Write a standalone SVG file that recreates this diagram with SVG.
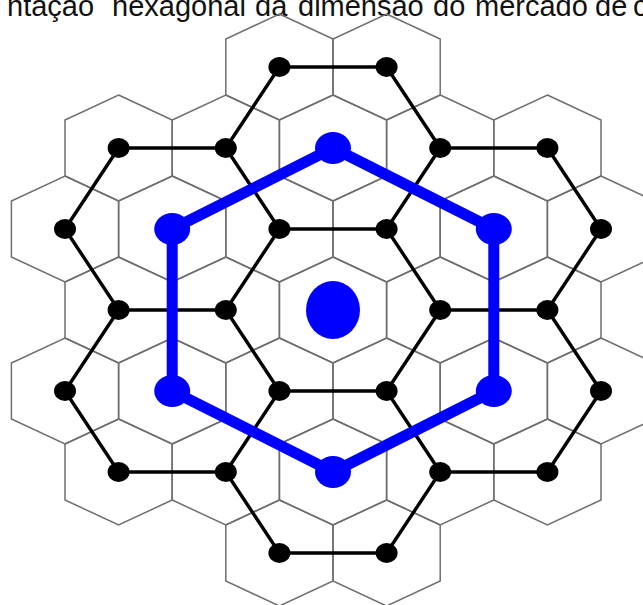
<svg xmlns="http://www.w3.org/2000/svg" xmlns:xlink="http://www.w3.org/1999/xlink" width="643" height="605" viewBox="0 0 643 605">
<style>
.title{font-family:"Liberation Sans",Arial,sans-serif;font-size:29px;fill:#111}
.hex{fill:none;stroke:#6e6e6e;stroke-width:1.5;stroke-linejoin:miter}
.blk{stroke:#000;stroke-width:3.4;stroke-linecap:round}
.blu{stroke:#0000ff;stroke-width:11;stroke-linecap:round}
.dot{fill:#000}
.bdot{fill:#0000ff}
</style>
<defs>
<polygon id="hx" class="hex" points="0,-53 53.6,-28 53.6,28 0,53 -53.6,28 -53.6,-28"/>
</defs>
<rect x="0" y="0" width="643" height="605" fill="#fff"/>
<text class="title" y="16"><tspan x="7">ntação</tspan><tspan x="112">hexagonal</tspan><tspan x="255">da</tspan><tspan x="298">dimensão</tspan><tspan x="433">do</tspan><tspan x="475">mercado</tspan><tspan x="595">de</tspan><tspan x="633">c</tspan></text>
<g id="grid">
<use xlink:href="#hx" x="279.4" y="67"/><use xlink:href="#hx" x="386.6" y="67"/>
<use xlink:href="#hx" x="118.6" y="148"/><use xlink:href="#hx" x="225.8" y="148"/><use xlink:href="#hx" x="333" y="148"/><use xlink:href="#hx" x="440.2" y="148"/><use xlink:href="#hx" x="547.4" y="148"/>
<use xlink:href="#hx" x="65" y="229"/><use xlink:href="#hx" x="172.2" y="229"/><use xlink:href="#hx" x="279.4" y="229"/><use xlink:href="#hx" x="386.6" y="229"/><use xlink:href="#hx" x="493.8" y="229"/><use xlink:href="#hx" x="601" y="229"/>
<use xlink:href="#hx" x="118.6" y="310"/><use xlink:href="#hx" x="225.8" y="310"/><use xlink:href="#hx" x="333" y="310"/><use xlink:href="#hx" x="440.2" y="310"/><use xlink:href="#hx" x="547.4" y="310"/>
<use xlink:href="#hx" x="65" y="391"/><use xlink:href="#hx" x="172.2" y="391"/><use xlink:href="#hx" x="279.4" y="391"/><use xlink:href="#hx" x="386.6" y="391"/><use xlink:href="#hx" x="493.8" y="391"/><use xlink:href="#hx" x="601" y="391"/>
<use xlink:href="#hx" x="118.6" y="472"/><use xlink:href="#hx" x="225.8" y="472"/><use xlink:href="#hx" x="333" y="472"/><use xlink:href="#hx" x="440.2" y="472"/><use xlink:href="#hx" x="547.4" y="472"/>
<use xlink:href="#hx" x="279.4" y="553"/><use xlink:href="#hx" x="386.6" y="553"/>
</g>
<g id="connectors">
<g class="blk">
<line x1="279.4" y1="67" x2="386.6" y2="67"/>
<line x1="279.4" y1="67" x2="225.8" y2="148"/>
<line x1="386.6" y1="67" x2="440.2" y2="148"/>
<line x1="118.6" y1="148" x2="225.8" y2="148"/>
<line x1="440.2" y1="148" x2="547.4" y2="148"/>
<line x1="118.6" y1="148" x2="65" y2="229"/>
<line x1="225.8" y1="148" x2="279.4" y2="229"/>
<line x1="440.2" y1="148" x2="386.6" y2="229"/>
<line x1="547.4" y1="148" x2="601" y2="229"/>
<line x1="279.4" y1="229" x2="386.6" y2="229"/>
<line x1="65" y1="229" x2="118.6" y2="310"/>
<line x1="279.4" y1="229" x2="225.8" y2="310"/>
<line x1="386.6" y1="229" x2="440.2" y2="310"/>
<line x1="601" y1="229" x2="547.4" y2="310"/>
<line x1="118.6" y1="310" x2="225.8" y2="310"/>
<line x1="440.2" y1="310" x2="547.4" y2="310"/>
<line x1="118.6" y1="310" x2="65" y2="391"/>
<line x1="225.8" y1="310" x2="279.4" y2="391"/>
<line x1="440.2" y1="310" x2="386.6" y2="391"/>
<line x1="547.4" y1="310" x2="601" y2="391"/>
<line x1="279.4" y1="391" x2="386.6" y2="391"/>
<line x1="65" y1="391" x2="118.6" y2="472"/>
<line x1="279.4" y1="391" x2="225.8" y2="472"/>
<line x1="386.6" y1="391" x2="440.2" y2="472"/>
<line x1="601" y1="391" x2="547.4" y2="472"/>
<line x1="118.6" y1="472" x2="225.8" y2="472"/>
<line x1="440.2" y1="472" x2="547.4" y2="472"/>
<line x1="225.8" y1="472" x2="279.4" y2="553"/>
<line x1="440.2" y1="472" x2="386.6" y2="553"/>
<line x1="279.4" y1="553" x2="386.6" y2="553"/>
</g>
<g class="blu">
<line x1="333" y1="148" x2="493.8" y2="229"/>
<line x1="493.8" y1="229" x2="493.8" y2="391"/>
<line x1="493.8" y1="391" x2="333" y2="472"/>
<line x1="333" y1="472" x2="172.2" y2="391"/>
<line x1="172.2" y1="391" x2="172.2" y2="229"/>
<line x1="172.2" y1="229" x2="333" y2="148"/>
</g>
</g>
<g id="n-a1"><ellipse class="dot" cx="279.4" cy="67" rx="11" ry="10"/></g>
<g id="n-a2"><ellipse class="dot" cx="386.6" cy="67" rx="11" ry="10"/></g>
<g id="n-b1"><ellipse class="dot" cx="118.6" cy="148" rx="11" ry="10"/></g>
<g id="n-b2"><ellipse class="dot" cx="225.8" cy="148" rx="11" ry="10"/></g>
<g id="n-b4"><ellipse class="dot" cx="440.2" cy="148" rx="11" ry="10"/></g>
<g id="n-b5"><ellipse class="dot" cx="547.4" cy="148" rx="11" ry="10"/></g>
<g id="n-c1"><ellipse class="dot" cx="65" cy="229" rx="11" ry="10"/></g>
<g id="n-c3"><ellipse class="dot" cx="279.4" cy="229" rx="11" ry="10"/></g>
<g id="n-c4"><ellipse class="dot" cx="386.6" cy="229" rx="11" ry="10"/></g>
<g id="n-c6"><ellipse class="dot" cx="601" cy="229" rx="11" ry="10"/></g>
<g id="n-d1"><ellipse class="dot" cx="118.6" cy="310" rx="11" ry="10"/></g>
<g id="n-d2"><ellipse class="dot" cx="225.8" cy="310" rx="11" ry="10"/></g>
<g id="n-d4"><ellipse class="dot" cx="440.2" cy="310" rx="11" ry="10"/></g>
<g id="n-d5"><ellipse class="dot" cx="547.4" cy="310" rx="11" ry="10"/></g>
<g id="n-e1"><ellipse class="dot" cx="65" cy="391" rx="11" ry="10"/></g>
<g id="n-e3"><ellipse class="dot" cx="279.4" cy="391" rx="11" ry="10"/></g>
<g id="n-e4"><ellipse class="dot" cx="386.6" cy="391" rx="11" ry="10"/></g>
<g id="n-e6"><ellipse class="dot" cx="601" cy="391" rx="11" ry="10"/></g>
<g id="n-f1"><ellipse class="dot" cx="118.6" cy="472" rx="11" ry="10"/></g>
<g id="n-f2"><ellipse class="dot" cx="225.8" cy="472" rx="11" ry="10"/></g>
<g id="n-f4"><ellipse class="dot" cx="440.2" cy="472" rx="11" ry="10"/></g>
<g id="n-f5"><ellipse class="dot" cx="547.4" cy="472" rx="11" ry="10"/></g>
<g id="n-g1"><ellipse class="dot" cx="279.4" cy="553" rx="11" ry="10"/></g>
<g id="n-g2"><ellipse class="dot" cx="386.6" cy="553" rx="11" ry="10"/></g>
<g id="n-top"><ellipse class="bdot" cx="333" cy="148" rx="18" ry="16"/></g>
<g id="n-upright"><ellipse class="bdot" cx="493.8" cy="229" rx="18" ry="16"/></g>
<g id="n-lowright"><ellipse class="bdot" cx="493.8" cy="391" rx="18" ry="16"/></g>
<g id="n-bottom"><ellipse class="bdot" cx="333" cy="472" rx="18" ry="16"/></g>
<g id="n-lowleft"><ellipse class="bdot" cx="172.2" cy="391" rx="18" ry="16"/></g>
<g id="n-upleft"><ellipse class="bdot" cx="172.2" cy="229" rx="18" ry="16"/></g>
<g id="n-center"><ellipse class="bdot" cx="333" cy="310" rx="27" ry="29"/></g>
</svg>
